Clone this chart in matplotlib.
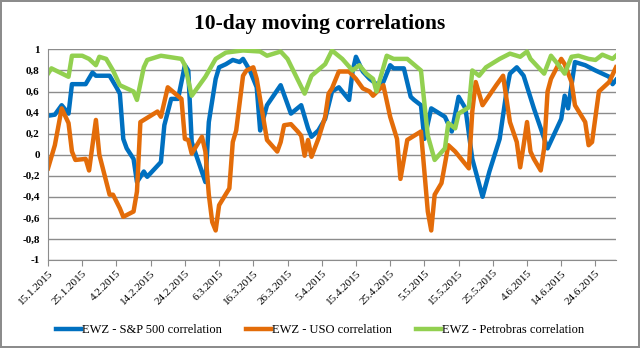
import matplotlib
matplotlib.use("Agg")
import matplotlib.pyplot as plt
import matplotlib.dates as mdates
from matplotlib.ticker import FixedLocator
import pandas as pd

# EWZ - S&P 500 correlation
sp_dates = ["01-15", "01-17", "01-19", "01-21", "01-22", "01-26", "01-28", "01-29", "02-02", "02-04",
            "02-05", "02-06", "02-07", "02-09", "02-10", "02-12", "02-13", "02-17", "02-18", "02-20",
            "02-22", "02-24", "02-25", "02-26", "03-02", "03-03", "03-05", "03-06", "03-08", "03-10",
            "03-12", "03-13", "03-15", "03-17", "03-18", "03-20", "03-24", "03-27", "03-30", "04-01",
            "04-02", "04-04", "04-06", "04-08", "04-10", "04-13", "04-14", "04-15", "04-17", "04-19",
            "04-21", "04-23", "04-25", "04-26", "04-29", "05-01", "05-02", "05-04", "05-05", "05-07",
            "05-11", "05-13", "05-15", "05-17", "05-19", "05-22", "05-24", "05-27", "05-29", "05-30",
            "06-01", "06-03", "06-06", "06-10", "06-14", "06-15", "06-16", "06-18", "06-21", "06-24",
            "06-28", "06-29", "06-30"]
sp_vals = [0.37, 0.38, 0.47, 0.39, 0.67, 0.67, 0.78, 0.75, 0.75, 0.64,
           0.58, 0.15, 0.06, -0.04, -0.26, -0.16, -0.21, -0.07, 0.28, 0.53,
           0.53, 0.85, 0.80, 0.12, -0.26, 0.31, 0.72, 0.83, 0.86, 0.90,
           0.88, 0.91, 0.80, 0.64, 0.23, 0.47, 0.66, 0.39, 0.47, 0.25,
           0.17, 0.23, 0.34, 0.60, 0.64, 0.52, 0.79, 0.93, 0.79, 0.72,
           0.67, 0.69, 0.85, 0.82, 0.82, 0.55, 0.52, 0.47, 0.15, 0.44,
           0.36, 0.22, 0.55, 0.44, -0.04, -0.40, -0.16, 0.15, 0.60, 0.77,
           0.83, 0.75, 0.44, 0.06, 0.34, 0.56, 0.44, 0.88, 0.85, 0.80,
           0.74, 0.67, 0.71]

# EWZ - USO correlation
uso_dates = ["01-15", "01-17", "01-19", "01-21", "01-22", "01-23", "01-26", "01-27", "01-29", "01-30",
             "02-02", "02-03", "02-05", "02-06", "02-09", "02-10", "02-11", "02-16", "02-17", "02-19",
             "02-23", "02-24", "02-25", "02-26", "03-01", "03-02", "03-03", "03-04", "03-05", "03-06",
             "03-09", "03-10", "03-11", "03-13", "03-14", "03-16", "03-17", "03-20", "03-23", "03-24",
             "03-25", "03-27", "03-29", "03-30", "03-31", "04-01", "04-02", "04-04", "04-06", "04-07",
             "04-08", "04-10", "04-13", "04-15", "04-17", "04-19", "04-20", "04-23", "04-25", "04-27",
             "04-28", "04-30", "05-02", "05-04", "05-06", "05-07", "05-08", "05-10", "05-12", "05-14",
             "05-18", "05-19", "05-20", "05-22", "05-26", "05-28", "05-30", "06-01", "06-02", "06-03",
             "06-04", "06-05", "06-06", "06-08", "06-09", "06-10", "06-11", "06-14", "06-15", "06-17",
             "06-18", "06-21", "06-22", "06-23", "06-25", "06-28", "06-30"]
uso_vals = [-0.13, 0.09, 0.44, 0.30, 0.03, -0.05, -0.04, -0.15, 0.33, 0.00,
            -0.38, -0.38, -0.51, -0.59, -0.54, -0.35, 0.31, 0.41, 0.36, 0.64,
            0.53, 0.15, 0.14, 0.01, 0.17, 0.03, -0.38, -0.64, -0.72, -0.48,
            -0.32, 0.12, 0.23, 0.75, 0.80, 0.83, 0.72, 0.14, 0.03, 0.12,
            0.28, 0.29, 0.22, 0.18, -0.01, 0.14, -0.02, 0.15, 0.36, 0.58,
            0.63, 0.79, 0.79, 0.72, 0.63, 0.60, 0.56, 0.66, 0.36, 0.15,
            -0.23, 0.14, 0.18, 0.22, -0.54, -0.72, -0.38, -0.27, 0.09, 0.03,
            -0.13, 0.41, 0.69, 0.47, 0.66, 0.75, 0.31, 0.12, -0.12, 0.09,
            0.31, 0.03, -0.04, -0.15, 0.06, 0.60, 0.72, 0.91, 0.86, 0.69,
            0.47, 0.31, 0.09, 0.12, 0.60, 0.69, 0.83]

# EWZ - Petrobras correlation
pbr_dates = ["01-15", "01-16", "01-21", "01-22", "01-25", "01-27", "01-29", "01-30", "02-01", "02-03",
             "02-05", "02-09", "02-10", "02-12", "02-13", "02-17", "02-23", "02-24", "02-26", "03-02",
             "03-05", "03-08", "03-13", "03-18", "03-20", "03-24", "03-26", "03-31", "04-02", "04-06",
             "04-08", "04-11", "04-14", "04-16", "04-18", "04-20", "04-21", "04-24", "04-26", "04-28",
             "04-30", "05-04", "05-06", "05-08", "05-11", "05-12", "05-14", "05-15", "05-18", "05-19",
             "05-21", "05-23", "05-27", "05-30", "06-02", "06-04", "06-05", "06-09", "06-11", "06-13",
             "06-15", "06-17", "06-19", "06-22", "06-24", "06-26", "06-29", "06-30"]
pbr_vals = [0.77, 0.82, 0.74, 0.94, 0.94, 0.91, 0.85, 0.93, 0.91, 0.80,
            0.66, 0.60, 0.52, 0.83, 0.90, 0.94, 0.91, 0.85, 0.56, 0.74,
            0.91, 0.97, 0.99, 0.98, 0.94, 0.98, 0.91, 0.58, 0.75, 0.86,
            0.99, 0.91, 0.80, 0.85, 0.77, 0.72, 0.60, 0.94, 0.91, 0.91,
            0.91, 0.80, 0.18, -0.05, 0.06, 0.30, 0.25, 0.39, 0.45, 0.80,
            0.75, 0.83, 0.91, 0.96, 0.93, 0.98, 0.91, 0.77, 0.94, 0.86,
            0.77, 0.93, 0.94, 0.91, 0.90, 0.95, 0.91, 0.94]

tick_labels = ["15.1.2015", "25.1.2015", "4.2.2015", "14.2.2015", "24.2.2015", "6.3.2015",
               "16.3.2015", "26.3.2015", "5.4.2015", "15.4.2015", "25.4.2015", "5.5.2015",
               "15.5.2015", "25.5.2015", "4.6.2015", "14.6.2015", "24.6.2015"]
y_ticks = [-1, -0.8, -0.6, -0.4, -0.2, 0, 0.2, 0.4, 0.6, 0.8, 1]


def to_dates(md):
    return pd.to_datetime(["2015-" + d for d in md])


def fmt_y(v):
    s = ("%.1f" % v).rstrip("0").rstrip(".")
    return s.replace(".", ",")


plt.rcParams["font.family"] = ["Liberation Serif", "DejaVu Serif"]

fig = plt.figure(figsize=(6.4, 3.48), dpi=100)
fig.patch.set_edgecolor("#8c8c8c")
fig.patch.set_linewidth(1.5)
ax = fig.add_axes([0.075, 0.253, 0.8875, 0.605])

ax.plot(to_dates(sp_dates), sp_vals, color="#0070C0", lw=3.2, label="EWZ - S&P 500 correlation")
ax.plot(to_dates(uso_dates), uso_vals, color="#E36C09", lw=3.2, label="EWZ - USO correlation")
ax.plot(to_dates(pbr_dates), pbr_vals, color="#92D050", lw=3.2, label="EWZ - Petrobras correlation")

ax.set_xlim(pd.Timestamp("2015-01-15"), pd.Timestamp("2015-06-30"))
ax.set_ylim(-1, 1)
tick_pos = pd.date_range("2015-01-15", periods=len(tick_labels), freq="10D")
ax.xaxis.set_major_locator(FixedLocator(mdates.date2num(tick_pos)))
ax.set_xticklabels(tick_labels, rotation=45, ha="right", rotation_mode="anchor", fontsize=8)
ax.set_yticks(y_ticks)
ax.set_yticklabels([fmt_y(v) for v in y_ticks], fontsize=8, fontweight="bold")

ax.yaxis.grid(True, color="#8c8c8c", lw=1)
ax.set_axisbelow(True)
for s in ["top", "right"]:
    ax.spines[s].set_visible(False)
for s in ["left", "bottom"]:
    ax.spines[s].set_color("#8c8c8c")
ax.tick_params(axis="x", length=4, color="#8c8c8c", pad=2)
ax.tick_params(axis="y", length=0, pad=6)

fig.text(0.5, 0.932, "10-day moving correlations", ha="center", va="center",
         fontsize=15.5, fontweight="bold")
fig.legend(loc="center", bbox_to_anchor=(0.5, 0.052), ncol=3, frameon=False, fontsize=9,
           handlelength=2.0, columnspacing=1.9, handletextpad=0.1)

fig.savefig("out.png", dpi=100)
